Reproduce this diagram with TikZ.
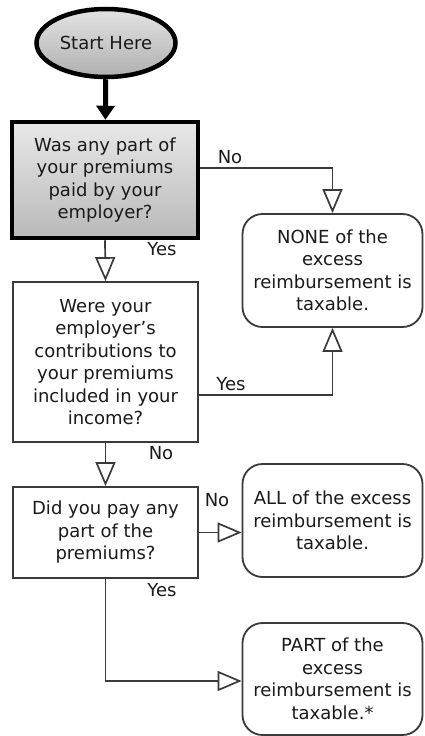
\documentclass[tikz,border=0pt]{standalone}
\usepackage{fontspec}
\setmainfont{DejaVu Sans}
\usepackage{tikz}
\usetikzlibrary{shapes.geometric,arrows.meta}
\definecolor{linegray}{HTML}{3A3A3A}
\definecolor{txt}{HTML}{1A1A1A}

\begin{document}
\begin{tikzpicture}[x=1pt,y=-1pt,
  every node/.style={text=txt,font=\fontsize{18}{22.5}\selectfont},
  question/.style={draw=linegray,line width=1.8pt,fill=white,align=center,inner sep=0pt},
  answer/.style={draw=linegray,line width=1.8pt,fill=white,rounded corners=20pt,align=center,
    minimum width=180pt,minimum height=113pt,inner sep=0pt},
  flow/.style={draw=linegray,line width=1.7pt,-{Triangle[open,length=24pt,width=20pt]}},
  word/.style={inner sep=0pt}]
\useasboundingbox (0,0) rectangle (424,736);
% start and first question
\node[ellipse,draw=black,line width=4.5pt,top color=gray!22,bottom color=gray!62,
  minimum width=139pt,minimum height=68pt,inner sep=0pt] (start) at (106,43) {Start Here};
\node[question,draw=black,line width=4.5pt,top color=gray!18,bottom color=gray!55,
  minimum width=186pt,minimum height=116pt] (q1) at (105,180)
  {Was any part of\\your premiums\\paid by your\\employer?};
\draw[line width=5pt,-{Triangle[length=14pt,width=18pt]}] (start) -- (q1);
% other questions
\node[question,minimum width=185pt,minimum height=160pt] (q2) at (105.5,362)
  {Were your\\employer's\\contributions to\\your premiums\\included in your\\income?};
\node[question,minimum width=185pt,minimum height=91pt] (q3) at (105.5,532.5)
  {Did you pay any\\part of the\\premiums?};
% results
\node[answer] (none) at (332.5,270.5) {NONE of the\\excess\\reimbursement is\\taxable.};
\node[answer] (all) at (332.5,520.5) {ALL of the excess\\reimbursement is\\taxable.};
\node[answer,minimum height=112pt] (part) at (332.5,679) {PART of the\\excess\\reimbursement is\\taxable.*};
% connectors
\draw[flow] ([yshift=12pt]q1.east) -| (none.north);
\draw[flow] (q1.south) -- (q2.north);
\draw[flow] ([yshift=-33pt]q2.east) -| (none.south);
\draw[flow] (q2.south) -- (q3.north);
\draw[flow] (q3.east) -- (q3.east -| all.west);
\draw[flow] (q3.south) |- ([yshift=-2pt]part.west);
% labels
\node[word] (no1) at (230,157) {No};
\node[word] (yes1) at (162,249) {Yes};
\node[word] (yes2) at (231,384) {Yes};
\node[word] (no2) at (161,453) {No};
\node[word] (no3) at (217,500) {No};
\node[word] (yes3) at (162,590) {Yes};
\end{tikzpicture}
\end{document}
